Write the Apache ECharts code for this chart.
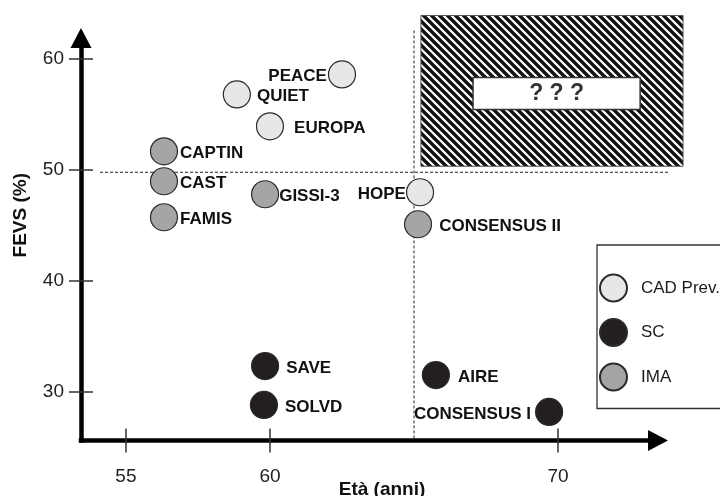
<!DOCTYPE html>
<html>
<head>
<meta charset="utf-8">
<script src="https://cdn.jsdelivr.net/npm/echarts@6/dist/echarts.min.js"></script>
<style>
html, body { margin: 0; padding: 0; background: #fff; }
#container { width: 720px; height: 496px; }
</style>
</head>
<body>
<div id="container"></div>
<script>
// valori: eta media (anni), FEVS (%)
var cadNames = ['PEACE', 'QUIET', 'EUROPA', 'HOPE'];
var cadAge = [62.5, 58.85, 60.0, 65.21];
var cadFevs = [58.55, 56.75, 53.88, 47.94];

var scNames = ['SAVE', 'SOLVD', 'AIRE', 'CONSENSUS I'];
var scAge = [59.83, 59.79, 65.76, 69.69];
var scFevs = [32.29, 28.79, 31.48, 28.16];

var imaNames = ['CAPTIN', 'CAST', 'FAMIS', 'GISSI-3', 'CONSENSUS II'];
var imaAge = [56.32, 56.32, 56.32, 59.83, 65.14];
var imaFevs = [51.63, 48.93, 45.69, 47.76, 45.06];

var xTicks = [55, 60, 70];
var yTicks = [30, 40, 50, 60];

// soglie tratteggiate
var ageCut = 65.0;
var ageCutFevs = [62.51, 25.59];
var fevsCut = 49.74;
var fevsCutAge = [54.1, 73.89];

// zona sconosciuta: [eta1, fevs1, eta2, fevs2] e riquadro del testo
var unknownZone = [65.24, 63.86, 74.34, 50.28];
var unknownBox = [67.05, 58.28, 72.85, 55.40];

// posizione etichette (solo layout)
var labelLeft = ['PEACE', 'HOPE', 'CONSENSUS I'];
var labelGap = {
    'PEACE': 1, 'QUIET': 6, 'EUROPA': 10, 'HOPE': 0,
    'SAVE': 7, 'SOLVD': 7, 'AIRE': 8, 'CONSENSUS I': 4,
    'CAPTIN': 2, 'CAST': 2, 'FAMIS': 2, 'GISSI-3': 0, 'CONSENSUS II': 7
};

var FONT = '"Liberation Sans", Arial, sans-serif';

function points(names, ages, fevs) {
    return names.map(function (n, i) {
        return {
            name: n,
            value: [ages[i], fevs[i]],
            label: {
                position: labelLeft.indexOf(n) >= 0 ? 'left' : 'right',
                distance: labelGap[n]
            }
        };
    });
}

function hatch() {
    var c = document.createElement('canvas');
    c.width = 8; c.height = 8;
    var g = c.getContext('2d');
    g.fillStyle = '#fff';
    g.fillRect(0, 0, 8, 8);
    g.strokeStyle = '#111';
    g.lineWidth = 3.4;
    g.beginPath();
    g.moveTo(-2, -2); g.lineTo(10, 10);
    g.moveTo(-2, 6); g.lineTo(2, 10);
    g.moveTo(6, -2); g.lineTo(10, 2);
    g.stroke();
    return c;
}

function scatter(name, data, fill) {
    return {
        name: name,
        type: 'scatter',
        data: data,
        symbolSize: 27,
        itemStyle: { color: fill, borderColor: '#2a2a2a', borderWidth: 1.2, opacity: 1 },
        label: {
            show: true,
            formatter: '{b}',
            fontFamily: FONT,
            fontWeight: 'bold',
            fontSize: 17,
            color: '#111',
            offset: [0, 2]
        },
        z: 5
    };
}

var axisLineStyle = { color: '#000', width: 4.5, cap: 'square' };
var tickStyle = { color: '#333', width: 1.5 };

var chart = echarts.init(document.getElementById('container'));

chart.setOption({
    animation: false,
    textStyle: { fontFamily: FONT },
    grid: { left: 81, top: 38, right: 62, bottom: 55.5, containLabel: false, outerBoundsMode: 'none' },
    legend: {
        data: ['CAD Prev.', 'SC', 'IMA'],
        orient: 'vertical',
        left: 597,
        top: 245,
        padding: [28.5, 40, 17, 2],
        itemWidth: 27,
        itemHeight: 27,
        itemGap: 15.5,
        borderColor: '#333',
        borderWidth: 1.3,
        textStyle: { fontSize: 17, color: '#1a1a1a', fontFamily: FONT, padding: [0, 0, 0, 9] }
    },
    xAxis: [{
        type: 'value',
        position: 'bottom',
        min: 53.44,
        max: 73.47,
        name: 'Età (anni)',
        nameLocation: 'middle',
        nameGap: 40,
        nameMoveOverlap: false,
        nameTextStyle: { fontWeight: 'bold', fontSize: 19, color: '#111', padding: [0, 0, 0, 25] },
        axisLine: { show: true, onZero: false, symbol: ['none', 'triangle'], symbolSize: [21, 20], lineStyle: axisLineStyle },
        axisTick: { show: true, customValues: xTicks, length: 12, lineStyle: tickStyle },
        axisLabel: { customValues: xTicks, fontSize: 19, color: '#222', margin: 27 },
        splitLine: { show: false }
    }, {
        type: 'value',
        position: 'bottom',
        min: 53.44,
        max: 73.47,
        axisLine: { show: false, onZero: false },
        axisTick: { show: true, inside: true, customValues: xTicks, length: 12, lineStyle: tickStyle },
        axisLabel: { show: false },
        splitLine: { show: false }
    }],
    yAxis: [{
        type: 'value',
        position: 'left',
        min: 25.59,
        max: 61.83,
        name: 'FEVS (%)',
        nameLocation: 'middle',
        nameGap: 51,
        nameMoveOverlap: false,
        nameTextStyle: { fontWeight: 'bold', fontSize: 19, color: '#111', padding: [0, 0, 0, 48] },
        axisLine: { show: true, onZero: false, symbol: ['none', 'triangle'], symbolSize: [21, 20], lineStyle: axisLineStyle },
        axisTick: { show: true, customValues: yTicks, length: 12, lineStyle: tickStyle },
        axisLabel: { customValues: yTicks, fontSize: 19, color: '#222', margin: 17 },
        splitLine: { show: false }
    }, {
        type: 'value',
        position: 'left',
        min: 25.59,
        max: 61.83,
        axisLine: { show: false, onZero: false },
        axisTick: { show: true, inside: true, customValues: yTicks, length: 12, lineStyle: tickStyle },
        axisLabel: { show: false },
        splitLine: { show: false }
    }],
    series: [
        {
            name: 'zona',
            type: 'custom',
            silent: true,
            z: 1,
            data: [unknownZone.concat(unknownBox)],
            renderItem: function (params, api) {
                var a = api.coord([api.value(0), api.value(1)]);
                var b = api.coord([api.value(2), api.value(3)]);
                var c = api.coord([api.value(4), api.value(5)]);
                var d = api.coord([api.value(6), api.value(7)]);
                return {
                    type: 'group',
                    children: [{
                        type: 'rect',
                        shape: { x: a[0], y: a[1], width: b[0] - a[0], height: b[1] - a[1] },
                        style: { fill: { image: hatch(), repeat: 'repeat' }, stroke: '#555', lineWidth: 1 }
                    }, {
                        type: 'rect',
                        shape: { x: c[0], y: c[1], width: d[0] - c[0], height: d[1] - c[1] },
                        style: { fill: '#fff', stroke: '#333', lineWidth: 1.5 }
                    }, {
                        type: 'text',
                        x: (c[0] + d[0]) / 2,
                        y: (c[1] + d[1]) / 2,
                        style: {
                            text: '? ? ?',
                            fill: '#333',
                            font: 'bold 23px ' + FONT,
                            align: 'center',
                            verticalAlign: 'middle'
                        }
                    }]
                };
            }
        },
        {
            name: 'soglie',
            type: 'custom',
            silent: true,
            z: 2,
            data: [
                [ageCut, ageCutFevs[0], ageCut, ageCutFevs[1]],
                [fevsCutAge[0], fevsCut, fevsCutAge[1], fevsCut]
            ],
            renderItem: function (params, api) {
                var p = api.coord([api.value(0), api.value(1)]);
                var q = api.coord([api.value(2), api.value(3)]);
                return {
                    type: 'line',
                    shape: { x1: p[0], y1: p[1], x2: q[0], y2: q[1] },
                    style: { stroke: '#222', lineWidth: 1, lineDash: [3, 2] }
                };
            }
        },
        scatter('CAD Prev.', points(cadNames, cadAge, cadFevs), '#e6e7e8'),
        scatter('SC', points(scNames, scAge, scFevs), '#231f20'),
        scatter('IMA', points(imaNames, imaAge, imaFevs), '#a5a5a5')
    ]
});
</script>
</body>
</html>
